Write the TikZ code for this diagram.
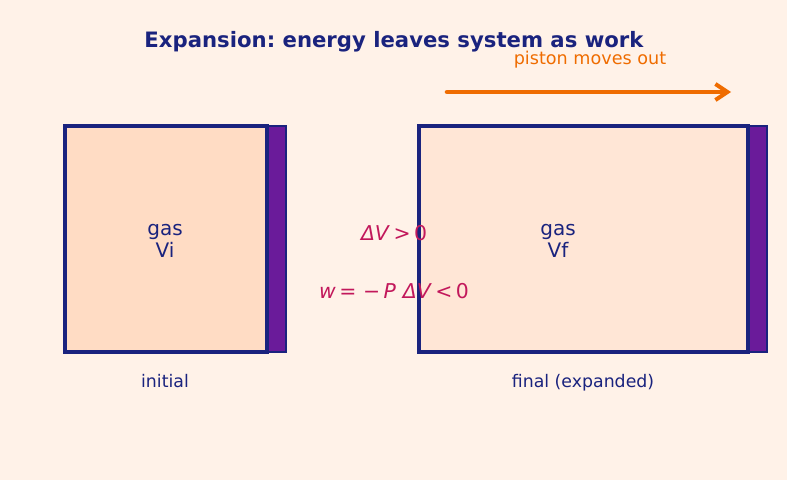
\documentclass[tikz,border=0pt]{standalone}
\usepackage{fontspec}
\setmainfont{DejaVu Sans}
\usetikzlibrary{arrows.meta}
\frenchspacing
\definecolor{bgc}{HTML}{FFF2E8}
\definecolor{navy}{HTML}{1A237E}
\definecolor{gasA}{HTML}{FFDCC4}
\definecolor{gasB}{HTML}{FFE6D6}
\definecolor{pist}{HTML}{6A1B9A}
\definecolor{orng}{HTML}{EF6C00}
\definecolor{crim}{HTML}{C2185B}
\tikzset{
  cyl/.style={draw=navy, line width=2.4pt},
  pistonbox/.style={draw=navy, fill=pist, line width=1.2pt},
  gaslabel/.style={text=navy, font=\fontsize{15}{16.5}\selectfont, align=center},
  caption/.style={text=navy, font=\fontsize{13}{15}\selectfont, anchor=base},
  eq/.style={text=crim, font=\fontsize{15.3}{17}\selectfont},
}
\begin{document}
\begin{tikzpicture}[x=0.75pt,y=-0.75pt]
\fill[bgc] (0,0) rectangle (787,480);
\useasboundingbox (0,0) rectangle (787,480);
% left cylinder
\fill[gasA] (65,126) rectangle (267,352);
\draw[pistonbox] (267,126) rectangle (286,352);
\draw[cyl] (65,126) rectangle (267,352);
% right cylinder
\fill[gasB] (419,126) rectangle (748,352);
\draw[pistonbox] (748,126) rectangle (767,352);
\draw[cyl] (419,126) rectangle (748,352);
% texts
\node[text=navy, font=\bfseries\fontsize{15.9}{18}\selectfont] (title) at (394,42) {Expansion: energy leaves system as work};
\node[text=orng, font=\fontsize{13.2}{15}\selectfont] (plabel) at (590,60) {piston moves out};
\coordinate (a0) at (447,92);
\coordinate (a1) at (731,92);
\draw[orng, line width=3.4pt, line cap=round, -{Straight Barb[length=9pt,width=12pt,line width=3pt]}] (a0) -- (a1);
\node[gaslabel] (gi) at (165,241) {gas\\Vi};
\node[gaslabel] (gf) at (558,241) {gas\\Vf};
\node[eq] (dv) at (394,233) {\textit{ΔV}\,>\,0};
\node[eq] (w) at (394,291) {\textit{w}\,=\,\,−\,\textit{P}\,\,\textit{ΔV}\,<\,0};
\node[caption] (ci) at (165,387) {initial};
\node[caption] (cf) at (583,387) {final (expanded)};
\end{tikzpicture}
\end{document}
